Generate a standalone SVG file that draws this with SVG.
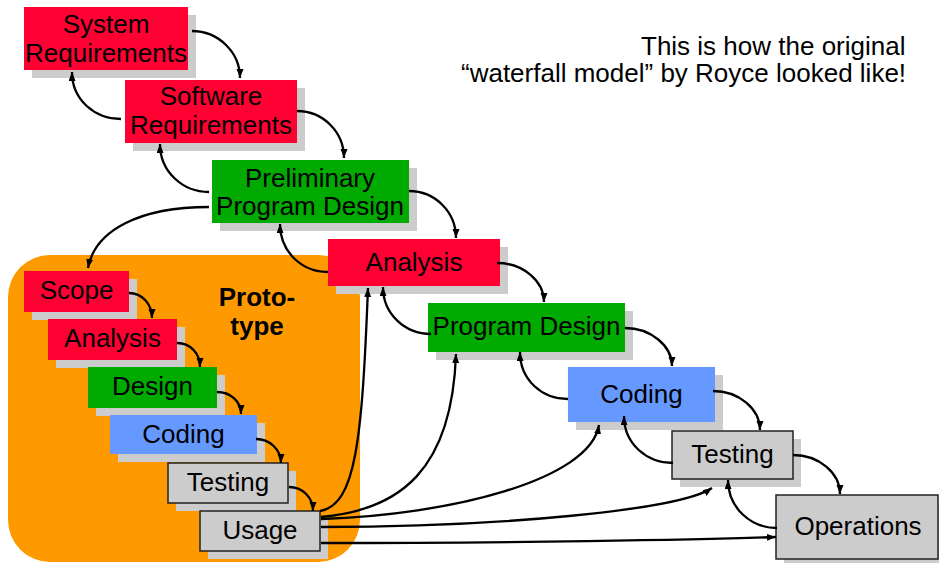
<svg xmlns="http://www.w3.org/2000/svg" width="939" height="563" viewBox="0 0 939 563">
<style>
.red{fill:#FF0033}
.green{fill:#00AA00}
.blue{fill:#6699FF}
.gray{fill:#CCCCCC;stroke:#222;stroke-width:1.5}
.shadow{fill:#CCCCCC}
.orange{fill:#FF9900}
text{font-family:"Liberation Sans",Arial,sans-serif;font-size:26px;fill:#000}
.c{text-anchor:middle}
.b{font-weight:bold}
.conn path{fill:none;stroke:#000;stroke-width:2.3;marker-end:url(#ah)}
</style>
<defs>
<marker id="ah" markerUnits="userSpaceOnUse" markerWidth="10" markerHeight="8" refX="9" refY="3.5" orient="auto">
<path d="M0,0 L9,3.5 L0,7 z" fill="#000"/>
</marker>
</defs>
<rect width="939" height="563" fill="#fff"/>

<g id="prototype">
<rect class="orange" x="8" y="255" width="352" height="307" rx="42" ry="42"/>
<text class="c b" x="257" y="306">Proto-</text>
<text class="c b" x="257" y="335">type</text>
</g>

<g id="title">
<text x="641" y="55">This is how the original</text>
<text x="461" y="82">“waterfall model” by Royce looked like!</text>
</g>

<g id="system-requirements">
<rect class="shadow" x="32" y="15" width="164" height="63"/>
<rect class="red" x="24" y="7" width="164" height="63"/>
<text class="c" x="106" y="33">System</text>
<text class="c" x="106" y="62">Requirements</text>
</g>
<g id="software-requirements">
<rect class="shadow" x="133" y="88" width="172" height="63"/>
<rect class="red" x="125" y="80" width="172" height="63"/>
<text class="c" x="211" y="105">Software</text>
<text class="c" x="211" y="134">Requirements</text>
</g>
<g id="preliminary-program-design">
<rect class="shadow" x="220" y="168" width="197" height="63"/>
<rect class="green" x="212" y="160" width="197" height="63"/>
<text class="c" x="310" y="187">Preliminary</text>
<text class="c" x="310" y="215">Program Design</text>
</g>
<g id="analysis">
<rect class="shadow" x="336" y="247" width="172" height="47"/>
<rect class="red" x="328" y="239" width="172" height="47"/>
<text class="c" x="414" y="271">Analysis</text>
</g>
<g id="program-design">
<rect class="shadow" x="436" y="311" width="197" height="49"/>
<rect class="green" x="428" y="303" width="197" height="49"/>
<text class="c" x="526.5" y="335">Program Design</text>
</g>
<g id="coding">
<rect class="shadow" x="576" y="375" width="147" height="55"/>
<rect class="blue" x="568" y="367" width="147" height="55"/>
<text class="c" x="641.5" y="403">Coding</text>
</g>
<g id="testing">
<rect class="shadow" x="680" y="439" width="121" height="48"/>
<rect class="gray" x="672" y="431" width="121" height="48"/>
<text class="c" x="732.5" y="463">Testing</text>
</g>
<g id="operations">
<rect class="shadow" x="784" y="503" width="162" height="64"/>
<rect class="gray" x="776" y="495" width="162" height="64"/>
<text class="c" x="858" y="535">Operations</text>
</g>

<g id="proto-scope">
<rect class="shadow" x="32" y="279" width="105" height="41"/>
<rect class="red" x="24" y="271" width="105" height="41"/>
<text class="c" x="76.5" y="299">Scope</text>
</g>
<g id="proto-analysis">
<rect class="shadow" x="56" y="327" width="129" height="41"/>
<rect class="red" x="48" y="319" width="129" height="41"/>
<text class="c" x="112.5" y="347">Analysis</text>
</g>
<g id="proto-design">
<rect class="shadow" x="96" y="375" width="129" height="41"/>
<rect class="green" x="88" y="367" width="129" height="41"/>
<text class="c" x="152.5" y="395">Design</text>
</g>
<g id="proto-coding">
<rect class="shadow" x="118" y="423" width="147" height="39"/>
<rect class="blue" x="110" y="415" width="147" height="39"/>
<text class="c" x="183.5" y="443">Coding</text>
</g>
<g id="proto-testing">
<rect class="shadow" x="176" y="471" width="120" height="40"/>
<rect class="gray" x="168" y="463" width="120" height="40"/>
<text class="c" x="228" y="491">Testing</text>
</g>
<g id="proto-usage">
<rect class="shadow" x="208" y="519" width="120" height="40"/>
<rect class="gray" x="200" y="511" width="120" height="40"/>
<text class="c" x="260" y="539">Usage</text>
</g>

<g id="connectors" class="conn">
<path d="M192,31 C218,31 240,52 240,78"/>
<path d="M297,111 C323,111 344,132 344,158"/>
<path d="M409,191 C435,191 456,212 456,238"/>
<path d="M497,263 C523,263 544,281 544,302"/>
<path d="M625,328 C651,328 672,346 672,366"/>
<path d="M713,391 C739,391 760,409 760,430"/>
<path d="M793,455 C819,455 840,473 840,494"/>

<path d="M121,119 C95,119 72,100 72,72"/>
<path d="M209,192 C183,192 160,172 160,144"/>
<path d="M328,272 C302,272 280,252 280,224"/>
<path d="M431,334 C405,334 383,314 383,287"/>
<path d="M568,399 C542,399 520,380 520,352"/>
<path d="M673,463 C647,463 624,444 624,416"/>
<path d="M777,528 C751,528 728,508 728,480"/>

<path d="M209,207 C140,207 95,230 88,268"/>

<path d="M129,293 C142,293 152,304 152,318"/>
<path d="M177,343 C190,343 200,353 200,367"/>
<path d="M217,392 C230,392 241,401 241,414"/>
<path d="M256,439 C269,439 281,449 281,463"/>
<path d="M289,487 C302,487 313,497 313,511"/>

<path d="M320,511 C356,505 362,440 368,288"/>
<path d="M321,517 C400,510 452,470 456,354"/>
<path d="M321,519 C450,515 590,480 599,425"/>
<path d="M321,527 C500,527 680,510 712,488"/>
<path d="M321,543 C500,543 700,540 776,537"/>
</g>
</svg>
